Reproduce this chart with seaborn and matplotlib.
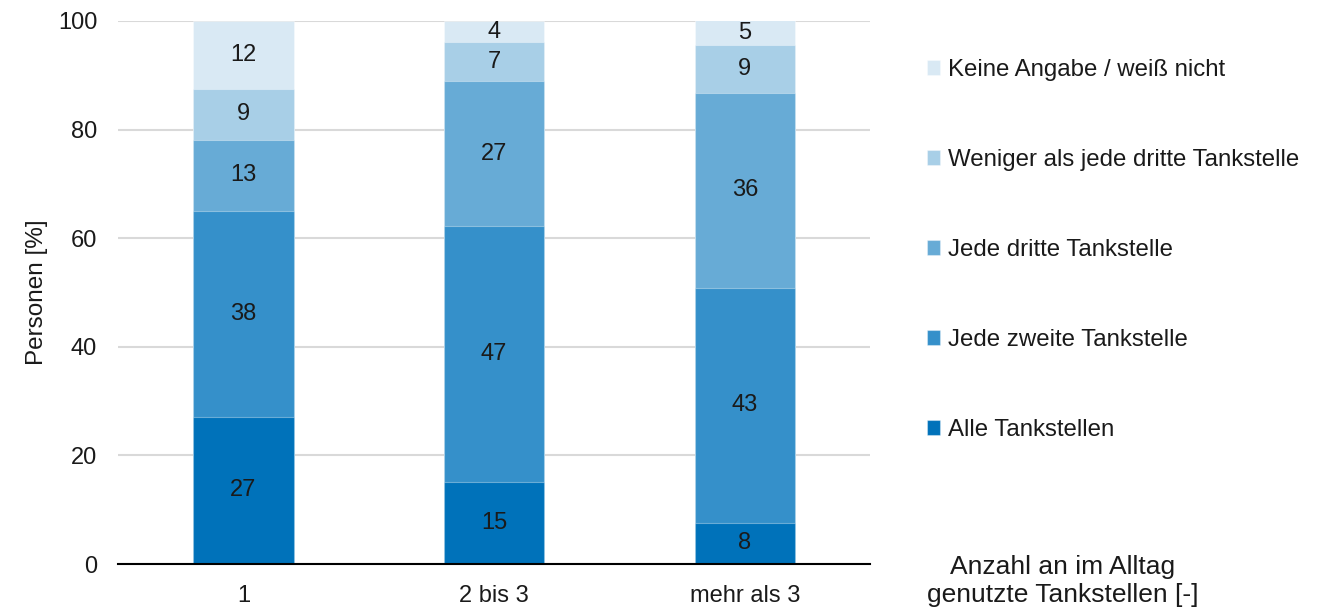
import numpy as np
import pandas as pd
import matplotlib
matplotlib.use("Agg")
import matplotlib.pyplot as plt
import seaborn as sns

# Categories on the x axis
categories = ["1", "2 bis 3", "mehr als 3"]

# Answer shares in percent, bottom to top of each stack
alle_tankstellen = [27.1, 15.1, 7.6]
jede_zweite = [37.9, 47.1, 43.3]
jede_dritte = [13.1, 26.7, 35.8]
weniger_als_dritte = [9.4, 7.2, 8.8]
keine_angabe = [12.5, 3.9, 4.6]

series_names = [
    "Alle Tankstellen",
    "Jede zweite Tankstelle",
    "Jede dritte Tankstelle",
    "Weniger als jede dritte Tankstelle",
    "Keine Angabe / weiß nicht",
]
series_values = [alle_tankstellen, jede_zweite, jede_dritte, weniger_als_dritte, keine_angabe]
colors = ["#0072BA", "#3590CA", "#67ABD6", "#A8CFE7", "#D9E9F4"]

FS = 17

sns.set_theme(style="white")
plt.rcParams["font.family"] = ["Liberation Sans", "DejaVu Sans"]

df = pd.DataFrame({name: vals for name, vals in zip(series_names, series_values)}, index=categories)
cum = df.cumsum(axis=1)

fig = plt.figure(figsize=(13.22, 6.10), dpi=100)
ax = fig.add_axes([0.0893, 0.0754, 0.569, 0.8902])

# Stacked bars: draw cumulative totals from the top layer down
for name, color in reversed(list(zip(series_names, colors))):
    layer = pd.DataFrame({"cat": categories, "val": cum[name].values})
    sns.barplot(data=layer, x="cat", y="val", color=color, width=0.4,
                saturation=1, ax=ax, edgecolor=(1, 1, 1, 0.35), linewidth=0.8,
                label=name, zorder=2)

# Value labels centred in each segment
for i, cat in enumerate(categories):
    for name in series_names:
        v = df.loc[cat, name]
        mid = cum.loc[cat, name] - v / 2
        ax.text(i, mid, f"{v:.0f}", ha="center", va="center", fontsize=FS,
                color="#1a1a1a", zorder=3)

ax.set_ylim(0, 100)
ax.set_xlim(-0.5, 2.5)
ax.set_yticks([0, 20, 40, 60, 80, 100])
ax.yaxis.grid(True, color="#d9d9d9", linewidth=1.5, zorder=0)
ax.set_axisbelow(True)
for s in ["top", "right", "left"]:
    ax.spines[s].set_visible(False)
ax.spines["bottom"].set_color("black")
ax.spines["bottom"].set_linewidth(1.5)
ax.spines["bottom"].set_zorder(4)
ax.tick_params(axis="both", length=0, labelsize=FS, colors="#1a1a1a")
ax.tick_params(axis="y", pad=15)
ax.tick_params(axis="x", pad=15)
ax.set_xlabel("")
ax.set_ylabel("Personen [%]", fontsize=17.5, color="#1a1a1a", labelpad=7)

# Legend, top entry is the top segment
handles, labels = ax.get_legend_handles_labels()
order = [labels.index(n) for n in reversed(series_names)]
leg = ax.legend([handles[k] for k in order], [labels[k] for k in order],
                loc="upper left", bbox_to_anchor=(0.685, 0.939),
                bbox_transform=fig.transFigure, frameon=False,
                fontsize=17.3, handlelength=0.55, handleheight=0.55,
                handletextpad=0.3, labelspacing=2.83)
for t in leg.get_texts():
    t.set_color("#1a1a1a")

fig.text(0.804, 0.0475, "Anzahl an im Alltag\ngenutzte Tankstellen [-]", ha="center",
         va="center", fontsize=19, color="#1a1a1a", linespacing=1.18)

fig.savefig("out.png", dpi=100, facecolor="white")
